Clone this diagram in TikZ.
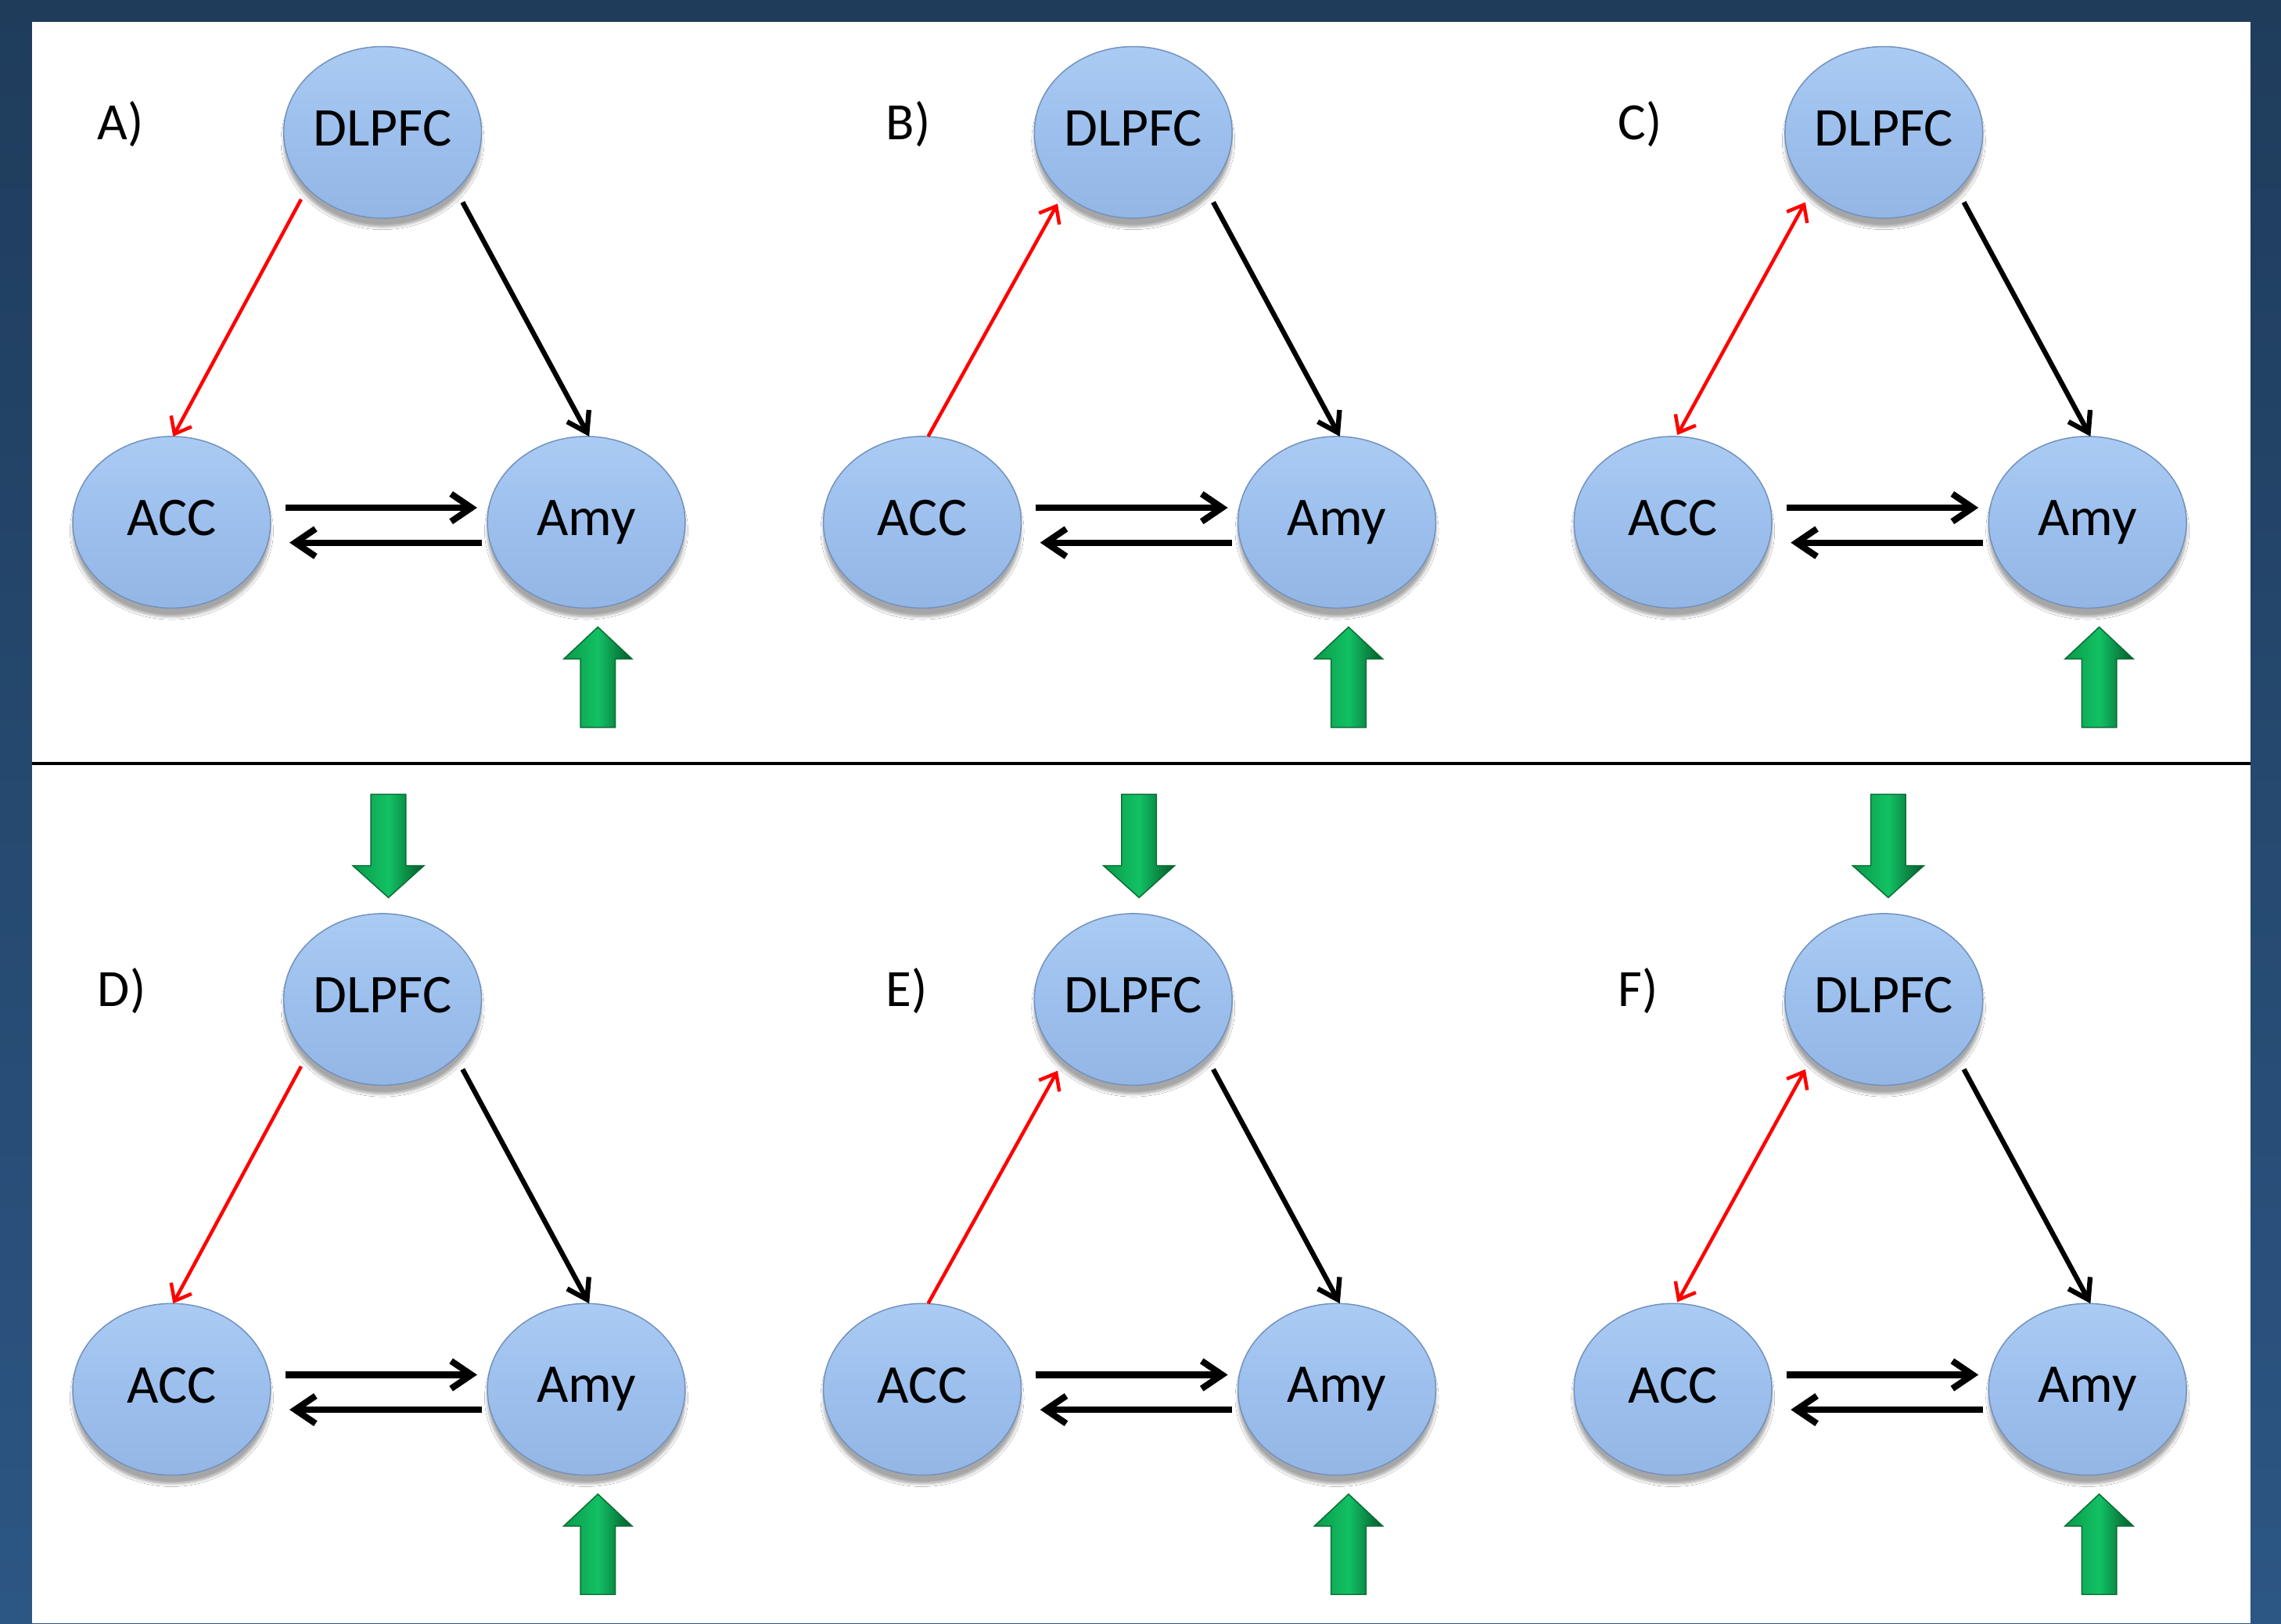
\documentclass[tikz,border=0pt]{standalone}
\usepackage{fontspec}
\setmainfont{Carlito}
\usetikzlibrary{arrows.meta,shapes.geometric,shadows.blur}

\definecolor{bgtop}{HTML}{1F3C5B}
\definecolor{bgbot}{HTML}{2C5684}
\definecolor{nodefill}{HTML}{9CBFED}
\definecolor{nodelight}{HTML}{AACBF3}
\definecolor{nodedark}{HTML}{93B6E5}
\definecolor{nodeedge}{HTML}{7392BD}
\definecolor{redarr}{HTML}{FF0000}
\definecolor{gL}{HTML}{0B9A4A}
\definecolor{gM}{HTML}{12C164}
\definecolor{gR}{HTML}{04592A}
\definecolor{gE}{HTML}{0A6E36}

\tikzset{
 region/.style={ellipse, minimum width=136pt, minimum height=118pt, inner sep=0pt,
   top color=nodelight, bottom color=nodedark, middle color=nodefill,
   draw=nodeedge, line width=0.8pt, font=\fontsize{37.5}{40}\selectfont, text depth=6pt,
   blur shadow={shadow xshift=0pt, shadow yshift=-6pt, shadow opacity=35, shadow blur steps=6}},
 panellabel/.style={anchor=base west, font=\fontsize{36}{40}\selectfont, inner sep=0pt},
 redarrow/.style={draw=redarr, line width=2.4pt, -{Straight Barb[length=10pt,width=16pt]}},
 redboth/.style={draw=redarr, line width=2.4pt, {Straight Barb[length=10pt,width=16pt]}-{Straight Barb[length=10pt,width=16pt]}},
 blackarrow/.style={draw=black, line width=3.4pt, -{Straight Barb[length=13pt,width=17pt]}},
 horizarrow/.style={draw=black, line width=4.4pt, -{Straight Barb[length=14pt,width=19pt]}},
 greenblock/.style={left color=gL, right color=gR, middle color=gM, draw=gE, line width=0.8pt, line join=miter},
}

% green block arrows: tip at (#1,#2)
\newcommand\greenup[2]{\path[greenblock] (#1,#2) -- ++(23.5,22) -- ++(-11.5,0) -- ++(0,47) -- ++(-24,0) -- ++(0,-47) -- ++(-11.5,0) -- cycle;}
\newcommand\greendown[2]{\path[greenblock] (#1,#2) -- ++(24.5,-22) -- ++(-12.5,0) -- ++(0,-49) -- ++(-24,0) -- ++(0,49) -- ++(-12.5,0) -- cycle;}

% #1 suffix, #2 dx, #3 dy
\newcommand\brainpanel[3]{%
 \begin{scope}[shift={(#2,#3)}]
  \node[region] (dl#1) at (263,91) {DLPFC};
  \node[region] (ac#1) at (118,359) {ACC};
  \node[region] (am#1) at (403,359) {Amy};
  \greenup{411}{431}
 \end{scope}
 \draw[blackarrow] ([shift={(55,48)}]dl#1.center) -- ([shift={(2,-59)}]am#1.center);
 \draw[horizarrow] ([shift={(78,-10)}]ac#1.center) -- ([shift={(-75,-10)}]am#1.center);
 \draw[horizarrow] ([shift={(-72,14)}]am#1.center) -- ([shift={(81,14)}]ac#1.center);
}

\begin{document}
\begin{tikzpicture}[x=1pt,y=-1pt]
 \useasboundingbox (0,0) rectangle (1568,1116);
 \fill[top color=bgtop, bottom color=bgbot] (0,0) rectangle (1568,1116);
 \fill[white] (22,15) rectangle (1547,1116);
 \draw[line width=2pt] (22,525) -- (1547,525);

 \brainpanel{A}{0}{0}
 \brainpanel{B}{516}{0}
 \brainpanel{C}{1032}{0}
 \brainpanel{D}{0}{596}
 \brainpanel{E}{516}{596}
 \brainpanel{F}{1032}{596}

 \greendown{267}{617}
 \greendown{783}{617}
 \greendown{1298}{617}

 \draw[redarrow] ([shift={(-56,46)}]dlA.center) -- ([shift={(1,-59)}]acA.center);
 \draw[redarrow] ([shift={(4,-59)}]acB.center) -- ([shift={(-52,49)}]dlB.center);
 \draw[redboth] ([shift={(3,-60)}]acC.center) -- ([shift={(-54,48)}]dlC.center);
 \draw[redarrow] ([shift={(-56,46)}]dlD.center) -- ([shift={(1,-59)}]acD.center);
 \draw[redarrow] ([shift={(4,-59)}]acE.center) -- ([shift={(-52,49)}]dlE.center);
 \draw[redboth] ([shift={(3,-60)}]acF.center) -- ([shift={(-54,48)}]dlF.center);

 \node[panellabel] (labA) at (67,96) {A)};
 \node[panellabel] (labB) at (609,96) {B)};
 \node[panellabel] (labC) at (1112,96) {C)};
 \node[panellabel] (labD) at (67,692) {D)};
 \node[panellabel] (labE) at (609,692) {E)};
 \node[panellabel] (labF) at (1112,692) {F)};
\end{tikzpicture}
\end{document}
